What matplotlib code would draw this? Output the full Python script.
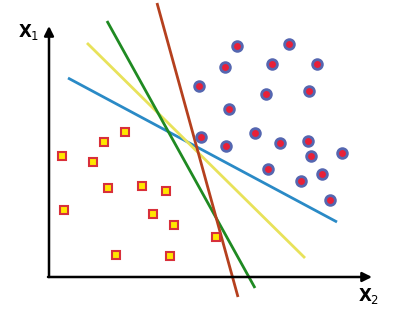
import matplotlib.pyplot as plt

# values, origin at the axes corner (units ~ pixels)
circle_x = [188, 240, 176, 223, 268, 150, 217, 260, 180, 152,
            206, 177, 231, 259, 262, 293, 219, 273, 252, 281]
circle_y = [231, 233, 210, 213, 213, 191, 183, 186, 168, 140,
            144, 131, 134, 136, 121, 124, 108, 103, 96, 77]

square_x = [76, 55, 13, 44, 59, 93, 117, 15, 104, 125, 167, 67, 121]
square_y = [145, 135, 121, 115, 89, 91, 86, 67, 63, 52, 40, 22, 21]

# separating lines: (x start, y start, x end, y end)
line_names = ["blue", "yellow", "green", "brown"]
line_colors = ["#2a8ac6", "#e8e25a", "#1f8a22", "#b5401e"]
line_x = [(19, 288), (38, 256), (58, 206), (108, 189)]
line_y = [(199, 55), (234, 19), (256, -11), (274, -20)]

fig = plt.figure(figsize=(4.02, 3.2), dpi=100)
ax = fig.add_axes([0, 0, 1, 1])
ax.set_xlim(-49, 353)
ax.set_ylim(-43, 277)
ax.axis("off")

# axes arrows
arrow = dict(arrowstyle="-|>", color="black", lw=1.8, mutation_scale=14,
             shrinkA=0, shrinkB=0)
ax.annotate("", xy=(0, 251), xytext=(0, 0), arrowprops=arrow)
ax.annotate("", xy=(323, 0), xytext=(-1, 0), arrowprops=arrow)

ax.text(-20, 245, r"$\mathbf{X}_{\mathrm{1}}$", fontsize=12, ha="center", va="center")
ax.text(320, -19, r"$\mathbf{X}_{\mathrm{2}}$", fontsize=12, ha="center", va="center")

for name, c, xs, ys in zip(line_names, line_colors, line_x, line_y):
    ax.plot(xs, ys, color=c, lw=2.0, solid_capstyle="butt", zorder=2)

ax.plot(square_x, square_y, "s", ms=6.0, mfc="#ffe600", mec="#d8303a",
        mew=1.5, zorder=3)
ax.plot(circle_x, circle_y, "o", ms=7.0, mfc="#e82038", mec="#5566b0",
        mew=2.0, zorder=3)

fig.savefig("out.png", dpi=100)
